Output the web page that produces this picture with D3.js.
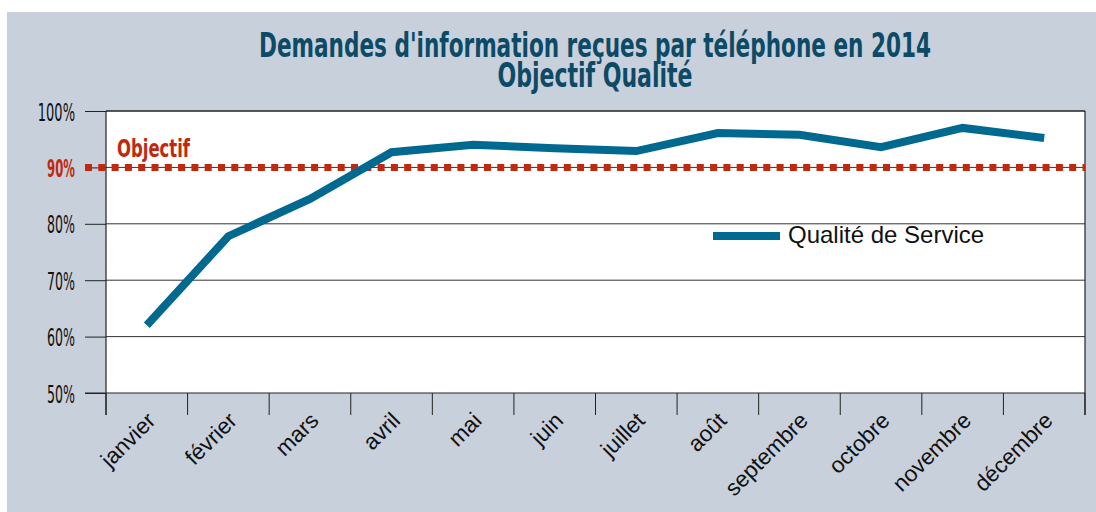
<!DOCTYPE html>
<html>
<head>
<meta charset="utf-8">
<script src="https://cdn.jsdelivr.net/npm/d3@7"></script>
<style>
  body { margin: 0; background: #fff; }
  svg { display: block; }
  .cond { font-family: "Liberation Sans Narrow", "DejaVu Sans Condensed", "Arial Narrow", sans-serif; }
</style>
</head>
<body>
<svg id="chart" width="1096" height="512"></svg>
<script>
const months = ['janvier', 'février', 'mars', 'avril', 'mai', 'juin', 'juillet', 'août', 'septembre', 'octobre', 'novembre', 'décembre'];
const quality = [0.62, 0.778, 0.844, 0.927, 0.94, 0.934, 0.929, 0.961, 0.958, 0.936, 0.97, 0.952];
const yTicks = [0.5, 0.6, 0.7, 0.8, 0.9, 1.0];
const target = 0.9;
const titleLines = ["Demandes d'information reçues par téléphone en 2014", 'Objectif Qualité'];
const seriesName = 'Qualité de Service';

const svg = d3.select('#chart');
const plotLeft = 106, plotRight = 1085, plotTop = 111, plotBottom = 393;

svg.append('rect')
  .attr('x', 7).attr('y', 12).attr('width', 1089).attr('height', 500)
  .attr('fill', '#c8d0db');

const x = d3.scaleBand().domain(months).range([plotLeft, plotRight]).padding(0);
const y = d3.scaleLinear().domain([0.5, 1]).range([plotBottom, plotTop]);
const cx = function (m) { return x(m) + x.bandwidth() / 2 };

// plot background
svg.append('rect')
  .attr('x', plotLeft).attr('y', plotTop)
  .attr('width', plotRight - plotLeft).attr('height', plotBottom - plotTop)
  .attr('fill', '#fff');

// title (condensed face squeezed to the reference width)
svg.append('g').attr('class', 'cond')
  .selectAll('text').data(titleLines).enter()
  .append('text')
  .attr('x', 595)
  .attr('y', function (d, i) { return 57 + i * 30 })
  .attr('text-anchor', 'middle')
  .attr('font-size', 34)
  .attr('font-weight', 'bold')
  .attr('fill', '#0c4a66')
  .attr('textLength', function (d, i) { return i === 0 ? 672 : 195 })
  .attr('lengthAdjust', 'spacingAndGlyphs')
  .text(function (d) { return d });

// y axis + grid
const yAxis = svg.append('g')
  .attr('transform', 'translate(' + plotLeft + ',0)')
  .call(d3.axisLeft(y).tickValues(yTicks).tickSize(21).tickFormat(d3.format('.0%')));
yAxis.select('.domain').remove();
yAxis.selectAll('line').attr('stroke', '#222');
yAxis.selectAll('text')
  .attr('class', 'cond')
  .attr('font-size', 25)
  .attr('x', -31)
  .attr('dy', '0.36em')
  .attr('textLength', function (d) { return d3.format('.0%')(d).length * 9.3 })
  .attr('lengthAdjust', 'spacingAndGlyphs')
  .attr('fill', function (d) { return d === target ? '#c0290e' : '#111' })
  .attr('font-weight', function (d) { return d === target ? 'bold' : 'normal' });

svg.append('g')
  .selectAll('line').data(yTicks.filter(function (d) { return d > 0.5 })).enter()
  .append('line')
  .attr('x1', plotLeft).attr('x2', plotRight)
  .attr('y1', function (d) { return y(d) }).attr('y2', function (d) { return y(d) })
  .attr('stroke', function (d) { return d === 1 ? '#222' : '#333' })
  .attr('stroke-width', function (d) { return d === 1 ? 1.5 : 1 });

// x axis: boundary ticks and frame sides
const bounds = months.map(function (m) { return x(m) }).concat([plotRight]);
svg.append('g')
  .selectAll('line').data([plotLeft, plotRight]).enter()
  .append('line')
  .attr('x1', function (d) { return d }).attr('x2', function (d) { return d })
  .attr('y1', plotTop).attr('y2', plotBottom + 22)
  .attr('stroke', '#222')
  .attr('stroke-width', 1.2);
svg.append('g')
  .selectAll('line').data(bounds).enter()
  .append('line')
  .attr('x1', function (d) { return d }).attr('x2', function (d) { return d })
  .attr('y1', plotBottom).attr('y2', plotBottom + 22)
  .attr('stroke', '#222');
svg.append('line')
  .attr('x1', plotLeft - 21).attr('x2', plotRight)
  .attr('y1', plotBottom).attr('y2', plotBottom)
  .attr('stroke', '#222');

// month labels
svg.append('g')
  .selectAll('text').data(months).enter()
  .append('text')
  .attr('transform', function (d) { return 'translate(' + (cx(d) + 10) + ',' + (plotBottom + 29) + ') rotate(-45)' })
  .attr('text-anchor', 'end')
  .attr('font-family', 'Liberation Sans, Arial, sans-serif')
  .attr('font-size', 22.5)
  .attr('fill', '#111')
  .text(function (d) { return d });

// objective line
svg.append('line')
  .attr('x1', plotLeft - 21).attr('x2', plotRight)
  .attr('y1', y(target)).attr('y2', y(target))
  .attr('stroke', '#c0290e')
  .attr('stroke-width', 7)
  .attr('stroke-dasharray', '7,6.3');
svg.append('text')
  .attr('class', 'cond')
  .attr('x', 117).attr('y', y(target) - 10)
  .attr('font-size', 24)
  .attr('font-weight', 'bold')
  .attr('fill', '#c0290e')
  .attr('textLength', 73)
  .attr('lengthAdjust', 'spacingAndGlyphs')
  .text('Objectif');

// series line
const line = d3.line()
  .x(function (d, i) { return cx(months[i]) })
  .y(function (d) { return y(d) });
svg.append('path')
  .datum(quality)
  .attr('d', line)
  .attr('fill', 'none')
  .attr('stroke', '#006990')
  .attr('stroke-width', 8)
  .attr('stroke-linejoin', 'miter');

// legend
svg.append('line')
  .attr('x1', 713).attr('x2', 780)
  .attr('y1', 236).attr('y2', 236)
  .attr('stroke', '#006990')
  .attr('stroke-width', 8);
svg.append('text')
  .attr('x', 788).attr('y', 243)
  .attr('font-family', 'Liberation Sans, Arial, sans-serif')
  .attr('font-size', 24)
  .attr('fill', '#111')
  .text(seriesName);
</script>
</body>
</html>
